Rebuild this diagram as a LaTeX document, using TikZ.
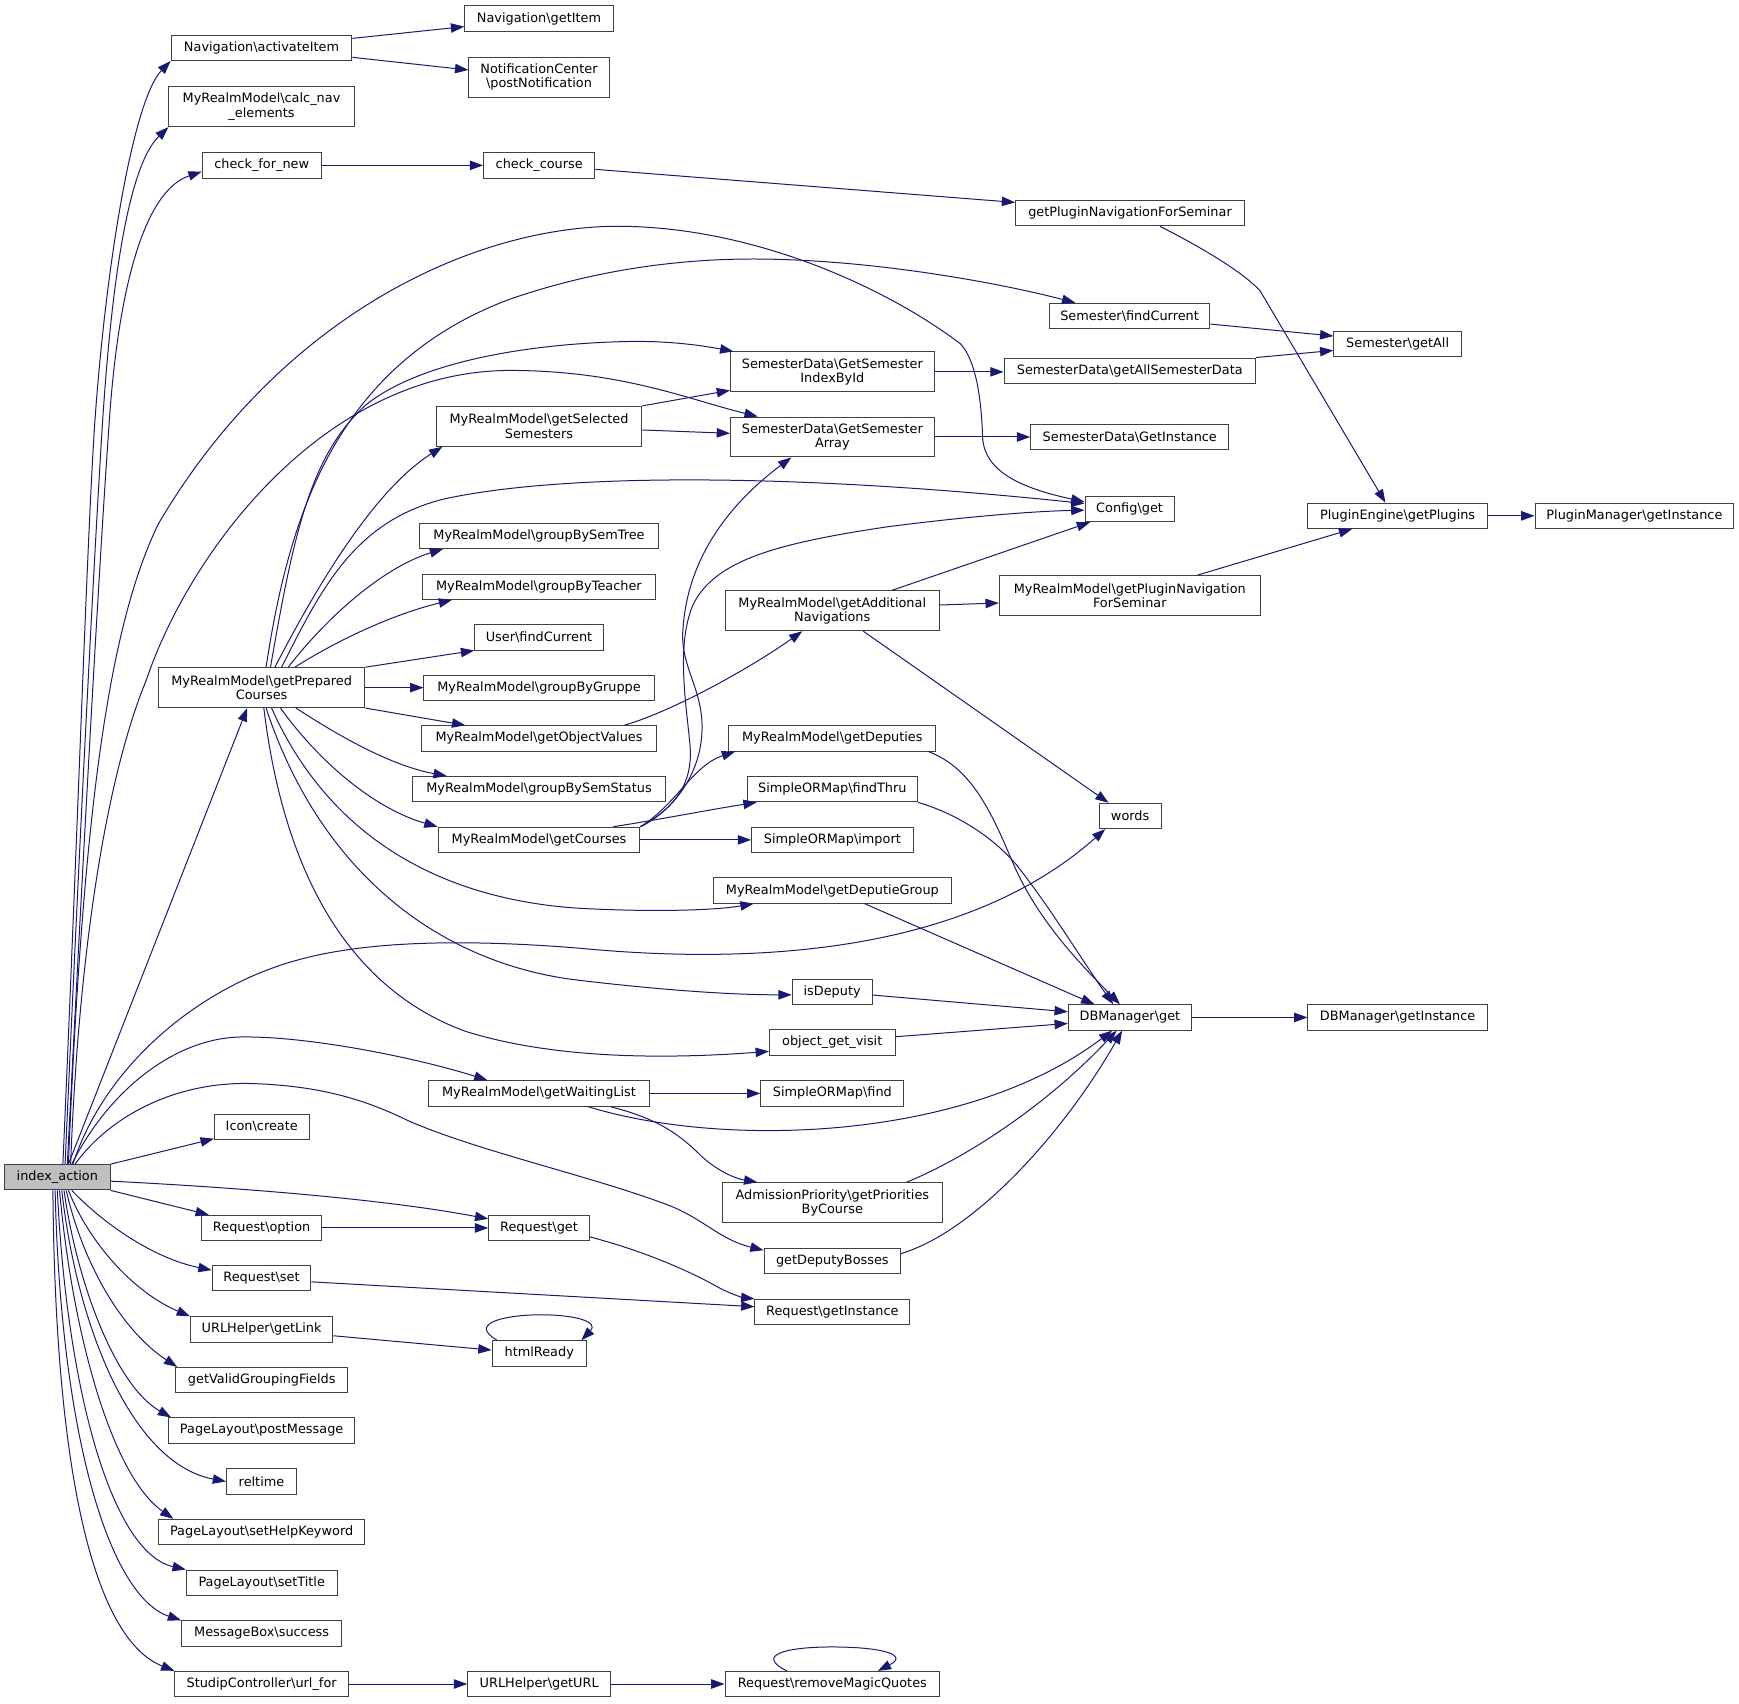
\documentclass[tikz,border=0pt]{standalone}
\usepackage{fontspec}
\setmainfont{DejaVu Sans}
\usetikzlibrary{arrows.meta}
\definecolor{edgecol}{HTML}{191970}
\definecolor{bordercol}{HTML}{404040}
\definecolor{iafill}{HTML}{BFBFBF}
\newcommand{\BSL}{\textbackslash{}}
\newcommand{\nfont}{\fontsize{11.6pt}{13pt}\selectfont}
\begin{document}
\begin{tikzpicture}[x=1pt,y=-1pt,
  box/.style={draw=bordercol, fill=white, line width=0.9pt, inner sep=0pt, minimum height=22.8pt, font=\nfont, align=center},
  boxtwo/.style={box, minimum height=36pt},
  edge/.style={draw=edgecol, line width=0.9pt, -{Triangle[length=12pt,width=8.5pt]}}]
\useasboundingbox (0,0) rectangle (1568,1536);

% ---------- nodes ----------
\node[box, fill=iafill, minimum width=95.3pt] (ia) at (51.7,1061.5) {index\_action};
\node[box, minimum width=163pt] (actItem) at (235.8,43.2) {Navigation\BSL activateItem};
\node[boxtwo, minimum width=167pt] (calcnav) at (235.8,96.2) {MyRealmModel\BSL calc\_nav\\\_elements};
\node[box, minimum width=107.4pt] (cfn) at (236,149.1) {check\_for\_new};
\node[box, minimum width=134pt] (getItem) at (486,16.7) {Navigation\BSL getItem};
\node[boxtwo, minimum width=126.6pt, minimum height=36.4pt] (postNotif) at (486,69.6) {NotificationCenter\\\BSL postNotification};
\node[box, minimum width=100.3pt] (ccourse) at (486.2,149.1) {check\_course};
\node[box, minimum width=206.3pt] (gpnfs) at (1018.9,192.2) {getPluginNavigationForSeminar};
\node[box, minimum width=145pt] (semFind) at (1018.5,284.8) {Semester\BSL findCurrent};
\node[box, minimum width=115pt] (semGetAll) at (1260.2,310) {Semester\BSL getAll};
\node[boxtwo, minimum width=183.6pt] (gsIdx) at (750.5,335.3) {SemesterData\BSL GetSemester\\IndexById};
\node[box, minimum width=226.7pt] (gasd) at (1018.7,334.2) {SemesterData\BSL getAllSemesterData};
\node[boxtwo, minimum width=185.4pt] (getSel) at (486,384.4) {MyRealmModel\BSL getSelected\\Semesters};
\node[boxtwo, minimum width=183.6pt] (gsArr) at (750.5,394) {SemesterData\BSL GetSemester\\Array};
\node[box, minimum width=178.7pt] (sdInst) at (1018.7,394) {SemesterData\BSL GetInstance};
\node[box, minimum width=80.4pt] (cfg) at (1018.5,459) {Config\BSL get};
\node[box, minimum width=161.7pt] (pe) at (1260.2,465.1) {PluginEngine\BSL getPlugins};
\node[box, minimum width=179.3pt] (pm) at (1473.7,465.1) {PluginManager\BSL getInstance};
\node[box, minimum width=216pt] (gbst) at (486,483.2) {MyRealmModel\BSL groupBySemTree};
\node[box, minimum width=209.7pt] (gbt) at (485.9,529) {MyRealmModel\BSL groupByTeacher};
\node[box, minimum width=116pt] (ufc) at (486,574.7) {User\BSL findCurrent};
\node[boxtwo, minimum width=193.3pt] (gan) at (750.4,550.7) {MyRealmModel\BSL getAdditional\\Navigations};
\node[boxtwo, minimum width=235.3pt] (gpn) at (1018.7,537) {MyRealmModel\BSL getPluginNavigation\\ForSeminar};
\node[boxtwo, minimum width=186.3pt] (gpc) at (235.9,620) {MyRealmModel\BSL getPrepared\\Courses};
\node[box, minimum width=207.4pt] (gbg) at (486,620.4) {MyRealmModel\BSL groupByGruppe};
\node[box, minimum width=212pt] (gov) at (486,665.8) {MyRealmModel\BSL getObjectValues};
\node[box, minimum width=186.4pt] (gdep) at (750.5,665.8) {MyRealmModel\BSL getDeputies};
\node[box, minimum width=227.4pt] (gbss) at (486,711.5) {MyRealmModel\BSL groupBySemStatus};
\node[box, minimum width=153.6pt] (sft) at (750.5,711.6) {SimpleORMap\BSL findThru};
\node[box, minimum width=56pt] (words) at (1019,735.7) {words};
\node[box, minimum width=182pt] (gcs) at (486,757.3) {MyRealmModel\BSL getCourses};
\node[box, minimum width=145.6pt] (simp) at (750.5,757.3) {SimpleORMap\BSL import};
\node[box, minimum width=215pt] (gdg) at (750.5,802.9) {MyRealmModel\BSL getDeputieGroup};
\node[box, minimum width=72pt] (isdep) at (750.3,894.3) {isDeputy};
\node[box, minimum width=111pt] (dbg) at (1018.8,917.4) {DBManager\BSL get};
\node[box, minimum width=161.7pt] (dbi) at (1260.2,917.4) {DBManager\BSL getInstance};
\node[box, minimum width=113.3pt] (ogv) at (750.4,940) {object\_get\_visit};
\node[box, minimum width=200pt] (gwl) at (486,985.9) {MyRealmModel\BSL getWaitingList};
\node[box, minimum width=129pt] (sfind) at (750.5,985.9) {SimpleORMap\BSL find};
\node[box, minimum width=85.4pt] (icon) at (236,1015.9) {Icon\BSL create};
\node[boxtwo, minimum width=198.4pt] (adm) at (750.5,1084.4) {AdmissionPriority\BSL getPriorities\\ByCourse};
\node[box, minimum width=108.3pt] (ropt) at (235.9,1107.2) {Request\BSL option};
\node[box, minimum width=90.6pt] (rget) at (486,1107.2) {Request\BSL get};
\node[box, minimum width=123pt] (gdb) at (750.5,1137.3) {getDeputyBosses};
\node[box, minimum width=89pt] (rset) at (235.8,1152.4) {Request\BSL set};
\node[box, minimum width=139.6pt] (rinst) at (750.5,1182.9) {Request\BSL getInstance};
\node[box, minimum width=128.3pt] (ulink) at (235.9,1198.7) {URLHelper\BSL getLink};
\node[box, minimum width=85pt] (hready) at (486.2,1220.3) {htmlReady};
\node[box, minimum width=155.4pt] (gvgf) at (236,1244.4) {getValidGroupingFields};
\node[box, minimum width=168.3pt] (ppm) at (235.9,1289.9) {PageLayout\BSL postMessage};
\node[box, minimum width=63pt] (reltime) at (235.8,1335.8) {reltime};
\node[box, minimum width=186.3pt] (shk) at (235.9,1381.3) {PageLayout\BSL setHelpKeyword};
\node[box, minimum width=136pt] (stitle) at (236,1427) {PageLayout\BSL setTitle};
\node[box, minimum width=144.3pt] (msucc) at (235.9,1472.8) {MessageBox\BSL success};
\node[box, minimum width=156.3pt] (suf) at (235.9,1518.4) {StudipController\BSL url\_for};
\node[box, minimum width=129pt] (ugurl) at (486.2,1518.4) {URLHelper\BSL getURL};
\node[box, minimum width=193.6pt] (rmq) at (750.5,1518.4) {Request\BSL removeMagicQuotes};

% ---------- edges from index_action (up) ----------
\draw[edge] ([xshift=5pt]ia.north) .. controls (70,750) and (78,500) .. (85,388) .. controls (95,240) and (120,90) .. (actItem.south west);
\draw[edge] ([xshift=7pt]ia.north) .. controls (72,750) and (85,500) .. (92,388) .. controls (100,260) and (115,150) .. (calcnav.south west);
\draw[edge] ([xshift=9pt]ia.north) .. controls (76,750) and (90,500) .. (98,388) .. controls (106,260) and (130,172) .. ([yshift=-5.7pt]cfn.west);
\draw[edge] ([xshift=10pt]ia.north) .. controls (75,720) and (100,560) .. (143,472) .. controls (250,290) and (420,205) .. (556,204) .. controls (680,204) and (800,260) .. (866,310) .. controls (880,325) and (885,360) .. (886,395) .. controls (888,425) and (920,440) .. ([yshift=6.5pt]cfg.west);
\draw[edge] ([xshift=12pt]ia.north) .. controls (70,880) and (92,710) .. (132,613) .. controls (170,500) and (290,335) .. (459,334) .. controls (560,334) and (620,360) .. ([xshift=25pt]gsArr.north west);
\draw[edge] ([xshift=10pt]ia.north) -- ([xshift=-13pt]gpc.south);
\draw[edge] ([xshift=14pt]ia.north) .. controls (95,960) and (180,890) .. (267,866) .. controls (320,851) and (400,845) .. (523,855) .. controls (680,870) and (870,860) .. ([xshift=6pt]words.south west);
\draw[edge] ([xshift=13pt]ia.north) .. controls (100,980) and (160,936) .. (217,935) .. controls (280,934) and (380,955) .. ([xshift=54pt]gwl.north west);
\draw[edge] ([xshift=16pt]ia.north) .. controls (100,1005) and (160,975) .. (227,977) .. controls (290,979) and (330,992) .. (367,1010) .. controls (430,1038) and (540,1062) .. (606,1088) .. controls (635,1100) and (650,1118) .. ([yshift=10pt]gdb.west);
\draw[edge] (ia.north east) -- ([yshift=1pt]icon.south west);
\draw[edge] ([yshift=-3.5pt]ia.east) .. controls (200,1070) and (340,1080) .. ([yshift=8.2pt]rget.west);
\draw[edge] (ia.south east) -- ([xshift=7pt]ropt.north west);
\draw[edge] (ropt) -- (rget);
% ---------- edges from index_action (down) ----------
\draw[edge] ([xshift=13pt]ia.south) .. controls (95,1105) and (140,1135) .. ([yshift=7.2pt]rset.west);
\draw[edge] ([xshift=10pt]ia.south) .. controls (80,1120) and (120,1165) .. (ulink.north west);
\draw[edge] ([xshift=8pt]ia.south) .. controls (75,1140) and (110,1200) .. ([xshift=2pt]gvgf.north west);
\draw[edge] ([xshift=6pt]ia.south) .. controls (70,1160) and (105,1250) .. ([xshift=3pt]ppm.north west);
\draw[edge] ([xshift=4pt]ia.south) .. controls (70,1200) and (120,1320) .. (reltime.west);
\draw[edge] ([xshift=2pt]ia.south) .. controls (65,1200) and (100,1330) .. ([xshift=14pt]shk.north west);
\draw[edge] (ia.south) .. controls (60,1250) and (100,1400) .. (stitle.north west);
\draw[edge] ([xshift=-2pt]ia.south) .. controls (55,1300) and (100,1440) .. (msucc.north west);
\draw[edge] ([xshift=-4pt]ia.south) .. controls (50,1350) and (90,1480) .. (suf.north west);

% ---------- edges from getPreparedCourses ----------
\draw[edge] ([xshift=4pt]gpc.north) .. controls (260,470) and (300,330) .. (459,270) .. controls (560,235) and (650,232) .. (706,234) .. controls (800,237) and (900,255) .. ([xshift=24pt]semFind.north west);
\draw[edge] ([xshift=8pt]gpc.north) .. controls (265,480) and (280,410) .. (330,365) .. controls (380,325) and (480,310) .. (563,308) .. controls (600,307) and (630,311) .. ([xshift=3pt]gsIdx.north west);
\draw[edge] ([xshift=12pt]gpc.north) .. controls (290,520) and (340,440) .. ([xshift=6pt]getSel.south west);
\draw[edge] ([xshift=18pt]gpc.north) .. controls (290,530) and (320,470) .. (400,450) .. controls (500,428) and (700,425) .. ([yshift=5pt]cfg.west);
\draw[edge] ([xshift=24pt]gpc.north) .. controls (300,550) and (350,510) .. ([xshift=22pt]gbst.south west);
\draw[edge] ([xshift=30pt]gpc.north) .. controls (300,580) and (350,555) .. ([xshift=27pt]gbt.south west);
\draw[edge] (gpc.north east) -- (ufc.south west);
\draw[edge] (gpc.east) -- (gpc.east -| gbg.west);
\draw[edge] (gpc.south east) -- ([xshift=40pt]gov.north west);
\draw[edge] ([xshift=31pt]gpc.south) .. controls (300,660) and (350,690) .. ([xshift=31pt]gbss.north west);
\draw[edge] ([xshift=17pt]gpc.south) .. controls (290,690) and (340,730) .. (gcs.north west);
\draw[edge] ([xshift=9pt]gpc.south) .. controls (290,740) and (380,810) .. (523,819) .. controls (600,823) and (650,820) .. ([xshift=37pt]gdg.south west);
\draw[edge] ([xshift=4pt]gpc.south) .. controls (290,790) and (400,870) .. (523,884) .. controls (600,893) and (660,897) .. ([yshift=-2.7pt]isdep.west);
\draw[edge] ([xshift=2pt]gpc.south) .. controls (255,780) and (310,890) .. (420,930) .. controls (500,955) and (600,955) .. ([yshift=-8pt]ogv.west);

% ---------- remaining edges ----------
\draw[edge] (actItem.east) ++(0,-8.6) -- ([yshift=-7.3pt]getItem.west);
\draw[edge] ([yshift=-8.5pt]actItem.east) -- ([yshift=6.5pt]postNotif.west);
\draw[edge] (cfn) -- (ccourse);
\draw[edge] ([yshift=-3.6pt]ccourse.east) -- ([yshift=9.7pt]gpnfs.west);
\draw[edge] ([xshift=27pt]gpnfs.south) .. controls (1085,224) and (1120,245) .. (1136,262) -- ([xshift=-11pt]pe.north);
\draw[edge] (pe) -- (pm);
\draw[edge] ([yshift=-7.4pt]semFind.east) -- ([yshift=7pt]semGetAll.west);
\draw[edge] (gasd.north east) -- ([yshift=-6pt]semGetAll.west);
\draw[edge] (gsIdx.east) -- (gsIdx.east -| gasd.west);
\draw[edge] (gsArr.east) -- (gsArr.east -| sdInst.west);
\draw[edge] (getSel.north east) -- ([yshift=1.8pt]gsIdx.south west);
\draw[edge] ([yshift=-3.3pt]getSel.east) -- ([yshift=3.3pt]gsArr.west);
\draw[edge] ([xshift=61pt]gpn.north) -- ([xshift=-41pt]pe.south);
\draw[edge] ([yshift=5.2pt]gan.east) -- ([yshift=-6.7pt]gpn.west);
\draw[edge] ([xshift=54pt]gan.north) -- ([xshift=5pt]cfg.south west);
\draw[edge] ([xshift=28pt]gan.south) -- ([xshift=9pt]words.north west);
\draw[edge] ([xshift=77pt]gov.north) .. controls (610,640) and (680,600) .. ([xshift=-27pt]gan.south);
\draw[edge] (gcs.north east) .. controls (605,732) and (632,700) .. (633,658) .. controls (634,620) and (612,600) .. (616,565) .. controls (620,510) and (650,460) .. ([xshift=-37pt]gsArr.south);
\draw[edge] (gcs.north east) .. controls (615,725) and (625,700) .. (622,670) .. controls (618,630) and (610,580) .. (625,545) .. controls (645,505) and (700,490) .. (800,475) .. controls (870,466) and (930,461) .. ([yshift=-1pt]cfg.west);
\draw[edge] (gcs.north east) .. controls (610,725) and (625,690) .. ([xshift=6pt]gdep.south west);
\draw[edge] ([xshift=67pt]gcs.north) .. controls (600,738) and (640,730) .. ([xshift=9pt]sft.south west);
\draw[edge] (gcs) -- (simp);
\draw[edge] ([xshift=-7pt]gdep.south east) .. controls (875,692) and (893,730) .. (912,775) .. controls (935,830) and (975,870) .. ([xshift=-9pt]dbg.north);
\draw[edge] (sft.south east) .. controls (860,733) and (892,752) .. (915,778) .. controls (945,815) and (975,865) .. ([xshift=-15pt]dbg.north);
\draw[edge] ([xshift=29pt]gdg.south) -- ([xshift=-32pt]dbg.north);
\draw[edge] ([yshift=-2.9pt]isdep.east) -- ([yshift=5.1pt]dbg.west);
\draw[edge] ([yshift=5.2pt]ogv.east) -- ([yshift=-5.4pt]dbg.west);
\draw[edge] (dbg) -- (dbi);
\draw[edge] (gwl) -- (sfind);
\draw[edge] ([xshift=44pt]gwl.south) .. controls (650,1035) and (870,1030) .. ([xshift=-16pt]dbg.south);
\draw[edge] ([xshift=64pt]gwl.south) .. controls (590,1008) and (610,1020) .. (633,1043) .. controls (650,1058) and (665,1063) .. ([xshift=32pt]adm.north west);
\draw[edge] ([xshift=67pt]adm.north) .. controls (880,1040) and (950,990) .. ([xshift=-12pt]dbg.south);
\draw[edge] ([yshift=7pt]gdb.east) .. controls (880,1110) and (960,1020) .. ([xshift=-7pt]dbg.south);
\draw[edge] ([yshift=-8pt]rget.east) .. controls (580,1128) and (620,1145) .. (650,1162) .. controls (660,1167) and (670,1170) .. (rinst.north west);
\draw[edge] ([yshift=-3.4pt]rset.east) -- ([yshift=4.7pt]rinst.west);
\draw[edge] ([yshift=-5.7pt]ulink.east) -- ([yshift=3pt]hready.west);
\draw[edge] ([xshift=-38pt]hready.north) .. controls (420,1192) and (460,1185.5) .. (487,1185.5) .. controls (520,1185.5) and (540,1192) .. ([xshift=38pt]hready.north);
\draw[edge] (suf) -- (ugurl);
\draw[edge] (ugurl) -- (rmq);
\draw[edge] ([xshift=-41pt]rmq.north) .. controls (680,1492) and (710,1485) .. (750,1485) .. controls (795,1485) and (820,1492) .. ([xshift=41pt]rmq.north);
\end{tikzpicture}
\end{document}
